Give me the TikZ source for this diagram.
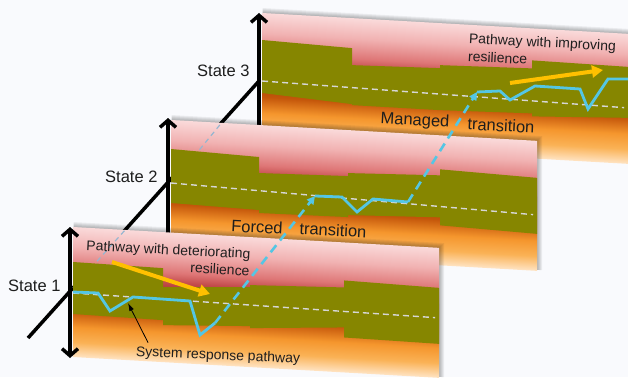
\documentclass[tikz,border=0pt]{standalone}
\usepackage{fontspec}
\setmainfont{Liberation Sans}
\usetikzlibrary{arrows.meta,calc}
\definecolor{bg}{RGB}{249,250,253}
\definecolor{oliveband}{RGB}{134,134,0}
\definecolor{pkA}{RGB}{250,218,218}
\definecolor{pkB}{RGB}{241,178,178}
\definecolor{pkC}{RGB}{222,118,118}
\definecolor{pkD}{RGB}{196,76,76}
\definecolor{pkE}{RGB}{175,60,60}
\definecolor{orA}{RGB}{140,50,0}
\definecolor{orB}{RGB}{196,86,10}
\definecolor{orC}{RGB}{245,150,45}
\definecolor{orD}{RGB}{250,178,86}
\definecolor{orE}{RGB}{255,228,196}
\definecolor{pathblue}{RGB}{84,198,228}
\definecolor{gold}{RGB}{255,192,0}
\definecolor{diagblue}{RGB}{150,182,208}
\definecolor{refgrey}{RGB}{214,214,214}
\definecolor{txt}{RGB}{30,30,30}
\pgfdeclareverticalshading{pinkband}{100bp}{color(0bp)=(pkE); color(25bp)=(pkE); color(30.4bp)=(pkD); color(39bp)=(pkC); color(57bp)=(pkB); color(75bp)=(pkA); color(100bp)=(pkA)}
\pgfdeclareverticalshading{orangeband}{100bp}{color(0bp)=(orE); color(25bp)=(orE); color(35.1bp)=(orD); color(45.3bp)=(orC); color(56.1bp)=(orB); color(75bp)=(orA); color(100bp)=(orA)}
\newcommand\panelbase{%
  \foreach \o in {1,...,5}{\fill[black,opacity=0.06] (0.5,-\o) rectangle (366+\o,129);}
  \shade[shading=pinkband] (0,0) rectangle (366,56);
  \shade[shading=orangeband] (0,56) rectangle (366,130);
}
\newcommand\oseg[6]{\fill[oliveband] (#1,#3) -- (#2,#4) -- (#2,#6) -- (#1,#5) -- cycle;}
\begin{document}
\begin{tikzpicture}[x=1pt,y=-1pt,
  lab/.style={font=\fontsize{16.5}{19}\selectfont, text=txt, inner sep=0pt},
  note/.style={font=\fontsize{14}{17}\selectfont, text=txt, inner sep=0pt, rotate=-3},
  refline/.style={refgrey, line width=1.4pt, dash pattern=on 6pt off 4pt},
  pathline/.style={pathblue, line width=2.8pt},
  transline/.style={pathblue, line width=2.6pt, dash pattern=on 9pt off 6pt, -{Triangle[length=8pt,width=8pt]}},
  diagdash/.style={diagblue, line width=1.2pt, dash pattern=on 5pt off 4pt},
  axisline/.style={black, line width=3.5pt},
  upaxis/.style={black, line width=3.5pt, -{Straight Barb[length=7pt,width=16pt]}},
  bothaxis/.style={black, line width=3.5pt, {Straight Barb[length=7pt,width=16pt]}-{Straight Barb[length=7pt,width=16pt]}},
  trend/.style={gold, line width=4pt, -{Triangle[length=11pt,width=12pt]}},
  ptr/.style={black, line width=0.8pt, -{Latex[length=8pt,width=5pt]}},
  p1/.style={transform canvas={shift={(73,227)},yslant=-0.057}},
  p2/.style={transform canvas={shift={(171,120)},yslant=-0.057}},
  p3/.style={transform canvas={shift={(262,13)},yslant=-0.057}}]
\fill[bg] (0,0) rectangle (628,377);
\useasboundingbox (0,0) rectangle (628,377);

% ---------- panel 3 ----------
\begin{scope}[p3]
  \panelbase
  \oseg{0}{90}{27}{30}{80}{86}
  \oseg{90}{178}{47}{45}{87}{87}
  \oseg{178}{270}{42}{40}{87}{85}
  \oseg{270}{366}{32}{33}{88}{84}
  \draw[refline] (0,68) -- (362,74);
\end{scope}
\coordinate (t2b) at (477,92);
\draw[pathline] (t2b) -- (500,91) -- (510,100) -- (535,86) -- (580,89) -- (588,109) -- (608,79) -- (632,79);
\coordinate (y3a) at (510,83);
\coordinate (y3b) at (603,70);
\draw[trend] (y3a) -- (y3b);
\node[note, align=left, font=\fontsize{14}{18}\selectfont] (imp) at (542,51) {Pathway with improving\\resilience};
\node[lab, rotate=-3] (managed) at (415,121) {Managed};
\node[lab, rotate=-3] (mtr) at (501,125.5) {transition};
\draw[upaxis] (259,127) -- (259,13);
\node[lab, anchor=base west] (s3) at (197,77) {State 3};

% ---------- long diagonal ----------
\coordinate (d0) at (28,338);
\coordinate (d3) at (259,81);
\draw[axisline] (d0) -- (d3);

% ---------- panel 2 ----------
\begin{scope}[p2]
  \panelbase
\end{scope}
\draw[diagdash] (171,184.5) -- (221.4,123);
\begin{scope}[p2]
  \oseg{0}{88}{29}{32}{83}{85}
  \oseg{88}{177}{48}{46}{88}{87}
  \oseg{177}{269}{43}{40}{85}{82}
  \oseg{269}{366}{34}{37}{90}{93}
  \draw[refline] (0,63) -- (362,74);
\end{scope}
\coordinate (t1b) at (315,196);
\coordinate (t2a) at (408,202);
\draw[pathline] (t1b) -- (342,197) -- (357,212) -- (373,199) -- (t2a);
\draw[upaxis] (168,236) -- (168,118);
\node[lab, anchor=base west] (s2) at (105,182) {State 2};
\node[lab, rotate=-3] (forced) at (257,227) {Forced};
\node[lab, rotate=-3] (ftr) at (333,230) {transition};
\draw[transline] (t2a) -- (t2b);

% ---------- panel 1 ----------
\begin{scope}[p1]
  \panelbase
\end{scope}
\draw[diagdash] (73,288) -- (125,230.1);
\begin{scope}[p1]
  \oseg{0}{90}{35}{36}{87}{88}
  \oseg{90}{177}{55}{50}{93}{89}
  \oseg{177}{271}{48}{45}{91}{85}
  \oseg{271}{366}{38}{40}{95}{96}
  \draw[refline] (0,66) -- (362,70);
\end{scope}
\coordinate (t1a) at (215,323);
\draw[pathline] (73,292) -- (98,293) -- (110,311) -- (133,297) -- (190,301) -- (200,335) -- (t1a);
\coordinate (y1a) at (112,262);
\coordinate (y1b) at (210,294);
\draw[trend] (y1a) -- (y1b);
\node[note, align=right] (det) at (168,258) {Pathway with deteriorating\\resilience};
\node[note, rotate=0.5] (srp) at (218,356) {System response pathway};
\coordinate (srpt) at (128,303);
\draw[ptr] ([xshift=12pt,yshift=3pt]srp.north west) -- (srpt);
\draw[bothaxis] (70,358) -- (70,227);
\node[lab, anchor=base west] (s1) at (8,291) {State 1};
\draw[transline] (t1a) -- (t1b);
\end{tikzpicture}
\end{document}
